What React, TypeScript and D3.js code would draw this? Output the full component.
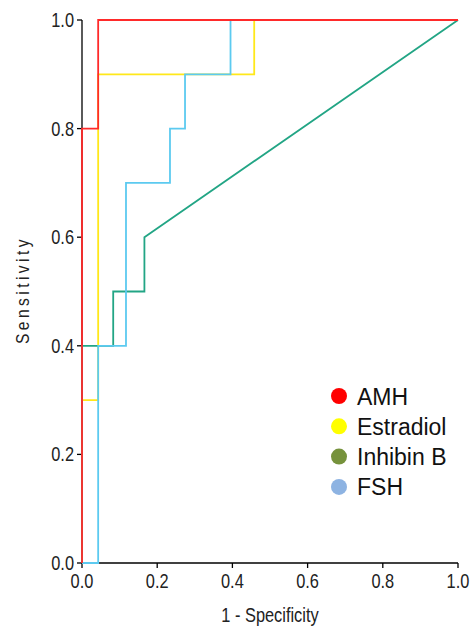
import React from "react";
import * as d3 from "d3";

const W = 470;
const H = 628;

const amhX = [0, 0, 0.043, 0.043, 1];
const amhY = [0, 0.8, 0.8, 1, 1];
const estradiolX = [0, 0, 0.043, 0.043, 0.458, 0.458, 1];
const estradiolY = [0, 0.3, 0.3, 0.9, 0.9, 1, 1];
const inhibinX = [0, 0, 0.083, 0.083, 0.166, 0.166, 1];
const inhibinY = [0, 0.4, 0.4, 0.5, 0.5, 0.6, 1];
const fshX = [0, 0.043, 0.043, 0.117, 0.117, 0.234, 0.234, 0.274, 0.274, 0.395, 0.395, 1];
const fshY = [0, 0, 0.4, 0.4, 0.7, 0.7, 0.8, 0.8, 0.9, 0.9, 1, 1];

const ticks = [0, 0.2, 0.4, 0.6, 0.8, 1.0];
const legendNames = ["AMH", "Estradiol", "Inhibin B", "FSH"];
const legendColors = ["#ff0000", "#ffff00", "#76923c", "#8db3e2"];

const series = [
  { name: "Estradiol", xs: estradiolX, ys: estradiolY, color: "#ffe81a" },
  { name: "Inhibin B", xs: inhibinX, ys: inhibinY, color: "#22a585" },
  { name: "FSH", xs: fshX, ys: fshY, color: "#5ccaf0" },
  { name: "AMH", xs: amhX, ys: amhY, color: "#ff2a2a" },
];

const x = d3.scaleLinear().domain([0, 1]).range([82, 458]);
const y = d3.scaleLinear().domain([0, 1]).range([563, 20]);

const tickFont = "'Liberation Sans', Arial, sans-serif";
const NARROW = 0.82;

export default function App() {
  const line = d3
    .line<[number, number]>()
    .x((d) => x(d[0]))
    .y((d) => y(d[1]));
  return (
    <svg
      width={W}
      height={H}
      style={{ position: "absolute", left: 0, top: 0, background: "#fff" }}
    >
      {/* axes */}
      <line x1={x(0)} x2={x(1)} y1={y(0)} y2={y(0)} stroke="#000" strokeWidth={1.3} />
      <line x1={x(0)} x2={x(0)} y1={y(0)} y2={y(1)} stroke="#000" strokeWidth={1.3} />
      {ticks.map((t) => (
        <g key={"x" + t}>
          <line x1={x(t)} x2={x(t)} y1={y(0)} y2={y(0) + 5} stroke="#000" strokeWidth={1.3} />
          <text
            transform={`translate(${x(t)}, ${y(0) + 25}) scale(${NARROW}, 1)`}
            textAnchor="middle"
            fontFamily={tickFont}
            fontSize={20}
            fill="#222"
          >
            {t.toFixed(1)}
          </text>
        </g>
      ))}
      {ticks.map((t) => (
        <g key={"y" + t}>
          <line x1={x(0) - 5} x2={x(0)} y1={y(t)} y2={y(t)} stroke="#000" strokeWidth={1.3} />
          <text
            transform={`translate(${x(0) - 8}, ${y(t) + 7}) scale(${NARROW}, 1)`}
            textAnchor="end"
            fontFamily={tickFont}
            fontSize={20}
            fill="#222"
          >
            {t.toFixed(1)}
          </text>
        </g>
      ))}
      <text
        transform={`translate(${(x(0) + x(1)) / 2}, 622) scale(${NARROW}, 1)`}
        textAnchor="middle"
        fontFamily={tickFont}
        fontSize={20}
        fill="#222"
      >
        1 - Specificity
      </text>
      <text
        transform={`translate(29, 290) rotate(-90) scale(${NARROW}, 1)`}
        textAnchor="middle"
        fontFamily={tickFont}
        fontSize={19}
        letterSpacing={4.2}
        fill="#222"
      >
        Sensitivity
      </text>
      {/* curves */}
      {series.map((s) => (
        <path
          key={s.name}
          d={line(s.xs.map((v, i) => [v, s.ys[i]] as [number, number])) || ""}
          fill="none"
          stroke={s.color}
          strokeWidth={1.8}
        />
      ))}
      {/* legend */}
      {legendNames.map((n, i) => (
        <g key={n} transform={`translate(339, ${396 + i * 30.3})`}>
          <circle r={8} fill={legendColors[i]} />
          <text
            x={18}
            y={8.5}
            fontFamily="'Liberation Sans', Arial, sans-serif"
            fontSize={23}
            fill="#111"
          >
            {n}
          </text>
        </g>
      ))}
    </svg>
  );
}
